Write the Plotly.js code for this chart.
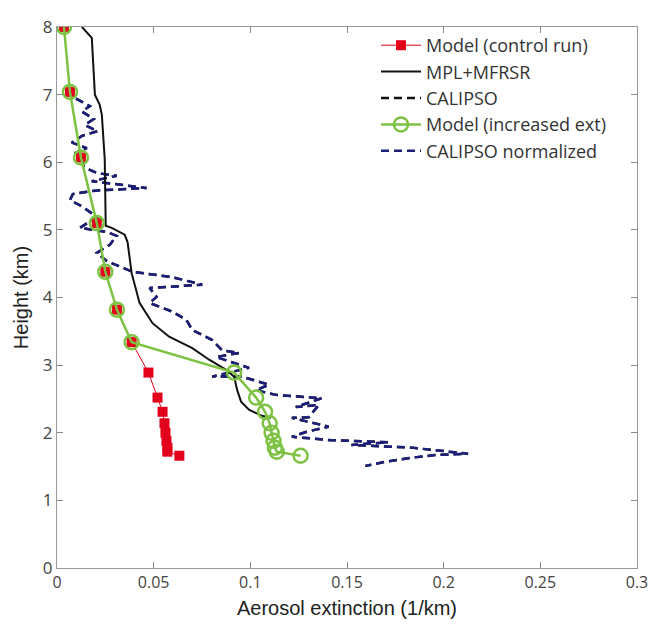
<!DOCTYPE html>
<html>
<head>
<meta charset="utf-8">
<script src="https://cdn.plot.ly/plotly-3.0.1.min.js"></script>
<style>html,body{margin:0;padding:0;background:#fff;}#chart{width:650px;height:628px;}</style>
</head>
<body>
<div id="chart"></div>
<script>
// Model (control run)
var ctrlH   = [8.0, 7.04, 6.07, 5.1, 4.38, 3.82, 3.34, 2.89, 2.52, 2.31, 2.14, 2.0, 1.88, 1.78, 1.72, 1.66];
var ctrlExt = [0.0036, 0.0067, 0.0124, 0.0206, 0.025, 0.031, 0.0386, 0.0473, 0.052, 0.0546, 0.0556, 0.0561, 0.0566, 0.0571, 0.0571, 0.0633];
// Model (increased ext)
var incH    = [8.0, 7.04, 6.07, 5.1, 4.38, 3.82, 3.34, 2.89, 2.52, 2.31, 2.14, 2.0, 1.88, 1.78, 1.72, 1.66];
var incExt  = [0.0036, 0.0067, 0.0124, 0.0206, 0.025, 0.031, 0.0386, 0.0916, 0.103, 0.1076, 0.110, 0.111, 0.112, 0.1127, 0.1137, 0.126];
// MPL+MFRSR
var mplH    = [8.0, 7.88, 7.84, 7.0, 6.85, 6.70, 6.48, 6.04, 5.06, 5.03, 4.93, 4.82, 4.36, 3.92, 3.62, 3.42, 3.25, 3.08, 2.93, 2.83, 2.63, 2.46, 2.34, 2.25, 2.22];
var mplExt  = [0.0129, 0.017, 0.018, 0.0196, 0.0221, 0.0232, 0.0237, 0.0247, 0.0252, 0.0283, 0.035, 0.0365, 0.0386, 0.0427, 0.0494, 0.058, 0.070, 0.0787, 0.0875, 0.0916, 0.0932, 0.0952, 0.0993, 0.106, 0.1107];
// CALIPSO (and normalized)
var calH    = [6.94, 6.83, 6.75, 6.64, 6.55, 6.46, 6.39, 6.29, 6.21, 6.14, 6.05, 5.93, 5.84, 5.80, 5.72, 5.62, 5.58, 5.53, 5.44, 5.34, 5.19, 5.03, 4.97, 4.91, 4.78, 4.66, 4.54, 4.38, 4.30, 4.19, 4.14, 4.01, 3.92, 3.79, 3.67, 3.52, 3.37, 3.22, 3.18, 3.12, 2.96, 2.83, 2.83, 2.71, 2.63, 2.56, 2.51, 2.38, 2.41, 2.23, 2.22, 2.09, 2.01, 1.94, 1.89, 1.86, 1.82, 1.78, 1.69, 1.67, 1.63, 1.57, 1.51];
var calExt  = [0.0098, 0.0170, 0.0129, 0.0190, 0.0144, 0.0211, 0.0129, 0.0077, 0.0154, 0.0098, 0.0129, 0.0139, 0.0206, 0.0309, 0.0180, 0.0463, 0.0196, 0.0082, 0.0067, 0.0134, 0.0206, 0.0118, 0.0257, 0.0309, 0.0273, 0.0206, 0.0257, 0.0391, 0.0597, 0.0751, 0.0479, 0.0515, 0.0479, 0.0597, 0.0669, 0.0700, 0.0803, 0.0854, 0.0942, 0.0823, 0.0993, 0.0803, 0.0957, 0.1096, 0.1029, 0.1132, 0.1369, 0.1235, 0.1354, 0.1302, 0.1215, 0.1405, 0.1287, 0.1215, 0.1420, 0.1714, 0.1523, 0.1832, 0.2126, 0.1956, 0.1832, 0.1698, 0.1595];
var calNormExt = [0.0098, 0.0170, 0.0129, 0.0190, 0.0144, 0.0211, 0.0129, 0.0077, 0.0154, 0.0098, 0.0129, 0.0139, 0.0206, 0.0309, 0.0180, 0.0463, 0.0196, 0.0082, 0.0067, 0.0134, 0.0206, 0.0118, 0.0257, 0.0309, 0.0273, 0.0206, 0.0257, 0.0391, 0.0597, 0.0751, 0.0479, 0.0515, 0.0479, 0.0597, 0.0669, 0.0700, 0.0803, 0.0854, 0.0942, 0.0823, 0.0993, 0.0803, 0.0957, 0.1096, 0.1029, 0.1132, 0.1369, 0.1235, 0.1354, 0.1302, 0.1215, 0.1405, 0.1287, 0.1215, 0.1420, 0.1714, 0.1523, 0.1832, 0.2126, 0.1956, 0.1832, 0.1698, 0.1595];

var xTicks = [0, 0.05, 0.1, 0.15, 0.2, 0.25, 0.3];
var xTickText = ['0', '0.05', '0.1', '0.15', '0.2', '0.25', '0.3'];
var yTicks = [0, 1, 2, 3, 4, 5, 6, 7, 8];

var navy = '#1c1f7a';
var green = '#7dc242';
var red = '#e3001b';

var traces = [
  {x: calExt, y: calH, name: 'CALIPSO', mode: 'lines', legendrank: 3,
   line: {color: '#111', width: 2.5, dash: '8px,5px'}},
  {x: calNormExt, y: calH, name: 'CALIPSO normalized', mode: 'lines', legendrank: 5,
   line: {color: navy, width: 2.5, dash: '8px,5px'}},
  {x: mplExt, y: mplH, name: 'MPL+MFRSR', mode: 'lines', legendrank: 2,
   line: {color: '#111', width: 2}},
  {x: ctrlExt, y: ctrlH, name: 'Model (control run)', mode: 'lines+markers', legendrank: 1,
   line: {color: red, width: 1}, marker: {symbol: 'square', size: 10, color: red}},
  {x: incExt, y: incH, name: 'Model (increased ext)', mode: 'lines+markers', legendrank: 4,
   line: {color: green, width: 2.5},
   marker: {symbol: 'circle-open', size: 14, color: green, line: {width: 2.5, color: green}}}
];

var layout = {
  width: 650, height: 628,
  margin: {l: 57, r: 13, t: 27, b: 60},
  paper_bgcolor: '#fff', plot_bgcolor: '#fff',
  font: {family: 'Open Sans, sans-serif', size: 16, color: '#444'},
  showlegend: true,
  legend: {x: 0.55, y: 1.0, xanchor: 'left', yanchor: 'top', bgcolor: 'rgba(255,255,255,0)',
           borderwidth: 0, font: {family: 'Open Sans, sans-serif', size: 18, color: '#333'},
           traceorder: 'normal', itemwidth: 40},
  xaxis: {range: [0, 0.3], tickvals: xTicks, ticktext: xTickText, ticks: 'inside', ticklen: 6,
          tickcolor: '#888', showline: true, linecolor: '#999', linewidth: 1, mirror: 'ticks',
          showgrid: false, zeroline: false, ticklabeloverflow: 'allow',
          tickfont: {family: 'Open Sans, sans-serif', size: 16, color: '#444'},
          title: {text: 'Aerosol extinction (1/km)', standoff: 8,
                  font: {family: 'Liberation Sans, Arial, sans-serif', size: 20, color: '#222'}}},
  yaxis: {range: [0, 8], tickvals: yTicks, ticks: 'inside', ticklen: 6,
          tickcolor: '#888', showline: true, linecolor: '#999', linewidth: 1, mirror: 'ticks',
          showgrid: false, zeroline: false, ticklabeloverflow: 'allow',
          tickfont: {family: 'Open Sans, sans-serif', size: 17, color: '#444'},
          title: {text: 'Height (km)', standoff: 8,
                  font: {family: 'Liberation Sans, Arial, sans-serif', size: 20, color: '#222'}}}
};

Plotly.newPlot('chart', traces, layout, {displayModeBar: false, staticPlot: true});
</script>
</body>
</html>
